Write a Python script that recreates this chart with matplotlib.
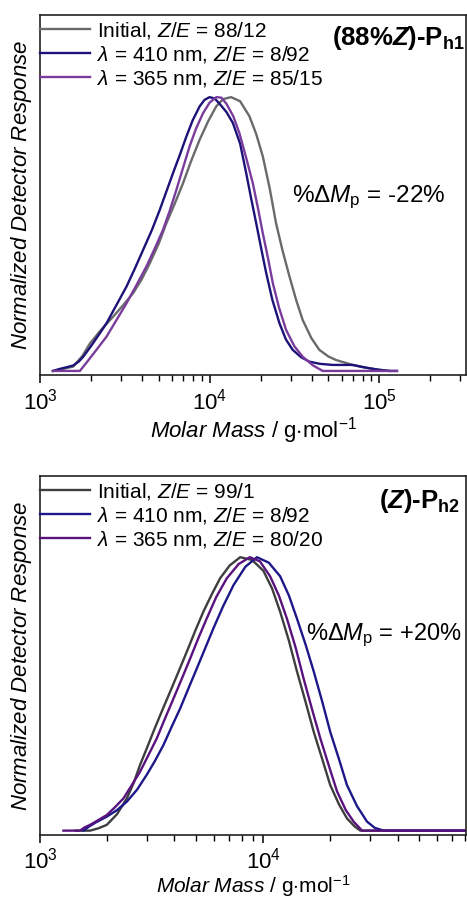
import numpy as np
import matplotlib
matplotlib.use("Agg")
import matplotlib.pyplot as plt
from matplotlib.ticker import LogLocator, NullFormatter, NullLocator

plt.rcParams['font.family'] = ['Liberation Sans', 'DejaVu Sans']
plt.rcParams['mathtext.fontset'] = 'custom'
plt.rcParams['mathtext.rm'] = 'Liberation Sans'
plt.rcParams['mathtext.it'] = 'Liberation Sans:italic'
plt.rcParams['mathtext.bf'] = 'Liberation Sans:italic:bold'
plt.rcParams['mathtext.sf'] = 'Liberation Sans:bold'

# ---------------- Panel 1 data: (88%Z)-Ph1 ----------------
p1_init_logM = [3.08, 3.14, 3.196, 3.25, 3.294, 3.36, 3.431, 3.49, 3.549, 3.60, 3.647, 3.70, 3.745,
                3.795, 3.843, 3.89, 3.941, 3.99, 4.039, 4.08, 4.127, 4.18, 4.235, 4.275, 4.314,
                4.355, 4.392, 4.43, 4.471, 4.51, 4.549, 4.60, 4.647, 4.70, 4.745, 4.80, 4.843,
                4.91, 4.98, 5.06]
p1_init_y = [0.0, 0.008, 0.016, 0.055, 0.10, 0.15, 0.198, 0.24, 0.284, 0.335, 0.393, 0.465, 0.539,
             0.612, 0.685, 0.765, 0.844, 0.91, 0.966, 0.993, 1.0, 0.985, 0.93, 0.865, 0.783,
             0.665, 0.539, 0.44, 0.345, 0.26, 0.186, 0.12, 0.077, 0.053, 0.040, 0.030, 0.022,
             0.013, 0.006, 0.0]

p1_410_logM = [3.076, 3.12, 3.16, 3.196, 3.23, 3.255, 3.30, 3.35, 3.392, 3.45, 3.51, 3.56, 3.608,
               3.66, 3.706, 3.745, 3.784, 3.825, 3.863, 3.90, 3.941, 3.97, 4.00, 4.03, 4.06, 4.10,
               4.137, 4.18, 4.216, 4.245, 4.275, 4.305, 4.334, 4.37, 4.412, 4.45, 4.49, 4.54,
               4.588, 4.65, 4.725, 4.79, 4.843, 4.89, 4.94, 5.00, 5.06, 5.105]
p1_410_y = [0.0, 0.008, 0.014, 0.02, 0.035, 0.052, 0.09, 0.135, 0.174, 0.24, 0.308, 0.375, 0.442,
            0.515, 0.588, 0.655, 0.722, 0.79, 0.856, 0.915, 0.966, 0.99, 1.0, 0.995, 0.975, 0.945,
            0.906, 0.83, 0.722, 0.63, 0.539, 0.445, 0.357, 0.26, 0.174, 0.115, 0.077, 0.05,
            0.034, 0.026, 0.022, 0.022, 0.022, 0.016, 0.010, 0.004, 0.0, 0.0]

p1_365_logM = [3.076, 3.235, 3.28, 3.33, 3.392, 3.45, 3.51, 3.57, 3.627, 3.675, 3.725, 3.765, 3.804,
               3.845, 3.882, 3.92, 3.961, 4.00, 4.04, 4.07, 4.10, 4.14, 4.176, 4.215, 4.255, 4.285,
               4.314, 4.345, 4.373, 4.41, 4.451, 4.50, 4.549, 4.61, 4.667, 5.105]
p1_365_y = [0.0, 0.0, 0.035, 0.075, 0.125, 0.185, 0.247, 0.315, 0.381, 0.445, 0.515, 0.585, 0.661,
            0.745, 0.82, 0.885, 0.941, 0.98, 1.0, 0.998, 0.975, 0.93, 0.868, 0.78, 0.685, 0.595,
            0.502, 0.41, 0.32, 0.23, 0.15, 0.09, 0.052, 0.02, 0.0, 0.0]

# ---------------- Panel 2 data: (Z)-Ph2 ----------------
p2_init_logM = [3.16, 3.224, 3.26, 3.299, 3.345, 3.389, 3.42, 3.448, 3.478, 3.508, 3.545, 3.583,
                3.62, 3.658, 3.695, 3.732, 3.77, 3.807, 3.85, 3.897, 3.95, 4.001, 4.04, 4.076,
                4.115, 4.151, 4.19, 4.226, 4.265, 4.30, 4.34, 4.375, 4.41, 4.435, 4.91]
p2_init_y = [0.0, 0.0, 0.008, 0.021, 0.06, 0.118, 0.175, 0.24, 0.30, 0.362, 0.435, 0.508,
             0.58, 0.655, 0.73, 0.801, 0.865, 0.923, 0.97, 1.0, 0.99, 0.95, 0.885, 0.80,
             0.695, 0.583, 0.47, 0.362, 0.26, 0.167, 0.095, 0.045, 0.015, 0.0, 0.0]

p2_410_logM = [3.194, 3.22, 3.25, 3.299, 3.345, 3.389, 3.435, 3.478, 3.515, 3.553, 3.59, 3.628,
               3.665, 3.703, 3.74, 3.777, 3.82, 3.867, 3.92, 3.972, 4.025, 4.076, 4.115, 4.151,
               4.19, 4.226, 4.265, 4.30, 4.34, 4.375, 4.42, 4.465, 4.50, 4.54, 4.91]
p2_410_y = [0.0, 0.015, 0.03, 0.051, 0.075, 0.106, 0.15, 0.204, 0.255, 0.313, 0.38, 0.447,
            0.52, 0.594, 0.667, 0.74, 0.82, 0.898, 0.965, 1.0, 0.98, 0.93, 0.86, 0.776,
            0.68, 0.583, 0.47, 0.362, 0.26, 0.167, 0.09, 0.033, 0.01, 0.0, 0.0]

p2_365_logM = [3.105, 3.179, 3.20, 3.224, 3.26, 3.299, 3.335, 3.374, 3.41, 3.448, 3.485, 3.523,
               3.56, 3.598, 3.635, 3.673, 3.71, 3.747, 3.79, 3.837, 3.89, 3.94, 3.985, 4.031,
               4.07, 4.106, 4.145, 4.181, 4.22, 4.256, 4.295, 4.331, 4.37, 4.405, 4.443, 4.91]
p2_365_y = [0.0, 0.0, 0.012, 0.021, 0.038, 0.057, 0.085, 0.118, 0.165, 0.215, 0.275, 0.337,
            0.41, 0.483, 0.555, 0.63, 0.705, 0.776, 0.855, 0.923, 0.975, 1.0, 0.985, 0.93,
            0.86, 0.776, 0.67, 0.556, 0.44, 0.337, 0.235, 0.143, 0.075, 0.033, 0.0, 0.0]

p1_labels = [r'Initial, $Z/E$ = 88/12', r'$\lambda$ = 410 nm, $Z/E$ = 8/92', r'$\lambda$ = 365 nm, $Z/E$ = 85/15']
p2_labels = [r'Initial, $Z/E$ = 99/1', r'$\lambda$ = 410 nm, $Z/E$ = 8/92', r'$\lambda$ = 365 nm, $Z/E$ = 80/20']
p1_colors = ['#6a6a6a', '#1c1278', '#7a3c9c']
p2_colors = ['#3e3e3e', '#1d1889', '#5a127e']
p1_title = r'(88%$\mathbf{Z}$)-P$_{\mathsf{h1}}$'
p2_title = r'($\mathbf{Z}$)-P$_{\mathsf{h2}}$'
p1_note = r'%$\Delta M_\mathrm{p}$ = -22%'
p2_note = r'%$\Delta M_\mathrm{p}$ = +20%'

W, H = 467, 899
fig = plt.figure(figsize=(W / 100, H / 100), dpi=100)
ax1 = fig.add_axes([40 / W, (H - 374.5) / H, 426 / W, 359.5 / H])
ax2 = fig.add_axes([40 / W, (H - 835) / H, 426 / W, 359 / H])


def style(ax, xlim, ylim, tpad, xfs, lpad):
    ax.set_xscale('log')
    ax.set_xlim(*xlim)
    ax.set_ylim(*ylim)
    ax.yaxis.set_major_locator(NullLocator())
    ax.xaxis.set_major_locator(LogLocator(base=10, numticks=10))
    ax.xaxis.set_minor_locator(LogLocator(base=10, subs=np.arange(2, 10), numticks=20))
    ax.xaxis.set_minor_formatter(NullFormatter())
    ax.tick_params(axis='x', which='major', direction='out', length=6, width=1.1, labelsize=16, pad=tpad)
    ax.tick_params(axis='x', which='minor', direction='out', length=4, width=1.0)
    for s in ax.spines.values():
        s.set_linewidth(1.2)
        s.set_color('#222222')
    ax.set_xlabel(r'$Molar\ Mass$ / g$\cdot$mol$^{-1}$', fontsize=xfs, labelpad=lpad)
    ax.set_ylabel(r'$Normalized\ Detector\ Response$', fontsize=16, labelpad=4)


def draw(ax, series, labels, colors):
    for (lx, ly), lab, c in zip(series, labels, colors):
        ax.plot(10 ** np.array(lx), ly, color=c, lw=1.7, label=lab, solid_joinstyle='round')
    ax.legend(loc='upper left', bbox_to_anchor=(-0.012, 1.0), frameon=False, fontsize=15,
              handlelength=2.4, handletextpad=0.33, labelspacing=0.13, borderaxespad=0,
              borderpad=0.25)


draw(ax1, [(p1_init_logM, p1_init_y), (p1_410_logM, p1_410_y), (p1_365_logM, p1_365_y)], p1_labels, p1_colors)
style(ax1, (1e3, 3.25e5), (-0.013, 1.30), 4, 16, 0.5)
ax1.text(0.998, 0.975, p1_title, transform=ax1.transAxes, ha='right', va='top', fontsize=18.5, fontweight='bold')
ax1.text(0.951, 0.494, p1_note, transform=ax1.transAxes, ha='right', va='center', fontsize=17.5)

draw(ax2, [(p2_init_logM, p2_init_y), (p2_410_logM, p2_410_y), (p2_365_logM, p2_365_y)], p2_labels, p2_colors)
style(ax2, (1e3, 8.1e4), (-0.016, 1.297), 3, 15, 0)
ax2.text(0.986, 0.969, p2_title, transform=ax2.transAxes, ha='right', va='top', fontsize=18.5, fontweight='bold')
ax2.text(0.99, 0.557, p2_note, transform=ax2.transAxes, ha='right', va='center', fontsize=17)

fig.savefig('out.png', dpi=100)
